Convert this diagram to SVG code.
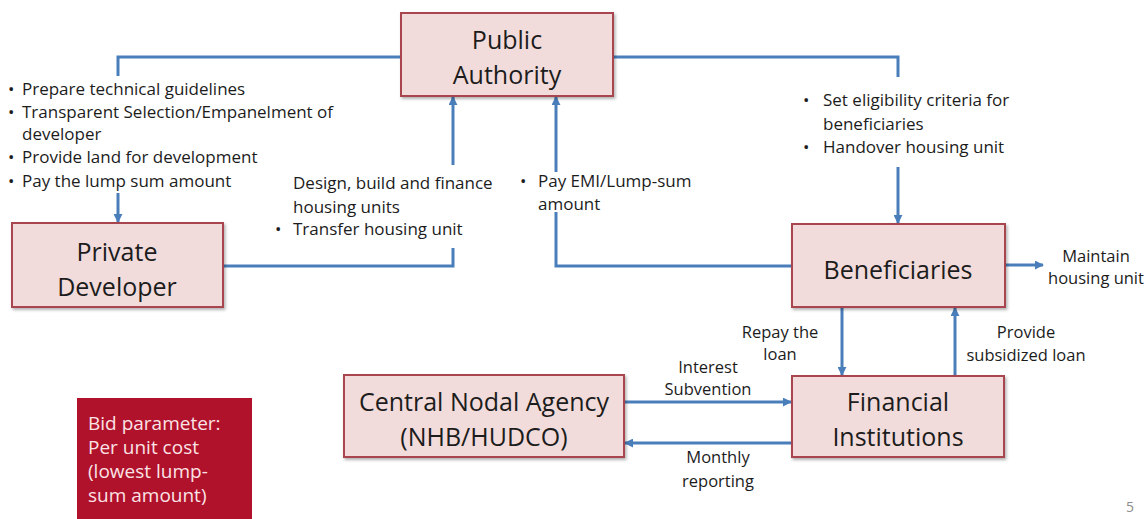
<svg xmlns="http://www.w3.org/2000/svg" width="1148" height="519" viewBox="0 0 1148 519">
<defs>
<style>
.box{fill:#F2DCDB;stroke:#A8454F;stroke-width:2}
.nt{font-family:"Open Sans","Noto Sans",sans-serif;font-size:25px;fill:#1c1c1c;text-anchor:middle}
.bt{font-family:"Open Sans","Noto Sans",sans-serif;font-size:17px;fill:#1c1c1c}
.lb{font-family:"Open Sans","Noto Sans",sans-serif;font-size:16.5px;fill:#1c1c1c;text-anchor:middle}
.cn{fill:none;stroke:#4A7EBB;stroke-width:3}
.bid{font-family:"Open Sans","Noto Sans",sans-serif;font-size:19px;fill:#FBE3E5}
</style>
<marker id="ah" viewBox="0 0 10 10" refX="9" refY="5" markerWidth="9" markerHeight="9" markerUnits="userSpaceOnUse" orient="auto">
<path d="M0,0 L10,5 L0,10 z" fill="#4A7EBB"/>
</marker>
<filter id="sh" x="-5%" y="-5%" width="115%" height="125%">
<feDropShadow dx="1.5" dy="2" stdDeviation="1.5" flood-color="#000" flood-opacity="0.3"/>
</filter>
</defs>
<rect width="1148" height="519" fill="#ffffff"/>

<g id="connectors">
<path class="cn" d="M401,57 H118 V76"/>
<path class="cn" d="M118,193 V222" marker-end="url(#ah)"/>
<path class="cn" d="M613,57 H898 V77"/>
<path class="cn" d="M898,167 V223" marker-end="url(#ah)"/>
<path class="cn" d="M223,266 H453 V248"/>
<path class="cn" d="M453,165 V97" marker-end="url(#ah)"/>
<path class="cn" d="M792,266 H556 V212"/>
<path class="cn" d="M556,172 V97" marker-end="url(#ah)"/>
<path class="cn" d="M1005,265 H1043" marker-end="url(#ah)"/>
<path class="cn" d="M842,307 V375" marker-end="url(#ah)"/>
<path class="cn" d="M955,376 V308" marker-end="url(#ah)"/>
<path class="cn" d="M624,402 H791" marker-end="url(#ah)"/>
<path class="cn" d="M792,443 H625" marker-end="url(#ah)"/>
</g>

<g id="public-authority">
<rect class="box" x="401" y="13" width="212" height="83" filter="url(#sh)"/>
<text class="nt" x="507" y="49">Public</text>
<text class="nt" x="507" y="84">Authority</text>
</g>

<g id="private-developer">
<rect class="box" x="12" y="223" width="211" height="84" filter="url(#sh)"/>
<text class="nt" x="117" y="261">Private</text>
<text class="nt" x="117" y="296">Developer</text>
</g>

<g id="beneficiaries">
<rect class="box" x="792" y="224" width="213" height="83" filter="url(#sh)"/>
<text class="nt" x="898" y="279">Beneficiaries</text>
</g>

<g id="central-nodal-agency">
<rect class="box" x="344" y="375" width="280" height="82" filter="url(#sh)"/>
<text class="nt" x="484" y="411">Central Nodal Agency</text>
<text class="nt" x="484" y="446">(NHB/HUDCO)</text>
</g>

<g id="financial-institutions">
<rect class="box" x="792" y="376" width="212" height="81" filter="url(#sh)"/>
<text class="nt" x="898" y="411">Financial</text>
<text class="nt" x="898" y="446">Institutions</text>
</g>

<g id="bid-parameter">
<rect x="77" y="398" width="175" height="130" fill="#B0112B"/>
<text class="bid" x="88" y="430">Bid parameter:</text>
<text class="bid" x="88" y="454">Per unit cost</text>
<text class="bid" x="88" y="478">(lowest lump-</text>
<text class="bid" x="88" y="502">sum amount)</text>
</g>

<g id="pa-roles">
<text class="bt" x="8" y="95">•</text><text class="bt" x="22" y="95">Prepare technical guidelines</text>
<text class="bt" x="8" y="118">•</text><text class="bt" x="22" y="118">Transparent Selection/Empanelment of</text>
<text class="bt" x="22" y="140">developer</text>
<text class="bt" x="8" y="163">•</text><text class="bt" x="22" y="163">Provide land for development</text>
<text class="bt" x="8" y="187">•</text><text class="bt" x="22" y="187">Pay the lump sum amount</text>
</g>

<g id="developer-roles">
<text class="bt" x="293" y="189">Design, build and finance</text>
<text class="bt" x="293" y="213">housing units</text>
<text class="bt" x="275" y="235">•</text><text class="bt" x="293" y="235">Transfer housing unit</text>
</g>

<g id="beneficiary-pay">
<text class="bt" x="520" y="187">•</text><text class="bt" x="538" y="187">Pay EMI/Lump-sum</text>
<text class="bt" x="538" y="210">amount</text>
</g>

<g id="pa-beneficiary-roles">
<text class="bt" x="803" y="106">•</text><text class="bt" x="823" y="106">Set eligibility criteria for</text>
<text class="bt" x="823" y="130">beneficiaries</text>
<text class="bt" x="803" y="153">•</text><text class="bt" x="823" y="153">Handover housing unit</text>
</g>

<g id="labels">
<text class="lb" x="1096" y="262">Maintain</text>
<text class="lb" x="1096" y="284">housing unit</text>
<text class="lb" x="780" y="338">Repay the</text>
<text class="lb" x="780" y="360">loan</text>
<text class="lb" x="1026" y="338">Provide</text>
<text class="lb" x="1026" y="361">subsidized loan</text>
<text class="lb" x="708" y="373">Interest</text>
<text class="lb" x="708" y="395">Subvention</text>
<text class="lb" x="718" y="463">Monthly</text>
<text class="lb" x="718" y="487">reporting</text>
</g>

<text x="1130" y="512" font-family="'Open Sans','Noto Sans',sans-serif" font-size="14" fill="#8c8c8c" text-anchor="middle">5</text>
</svg>
